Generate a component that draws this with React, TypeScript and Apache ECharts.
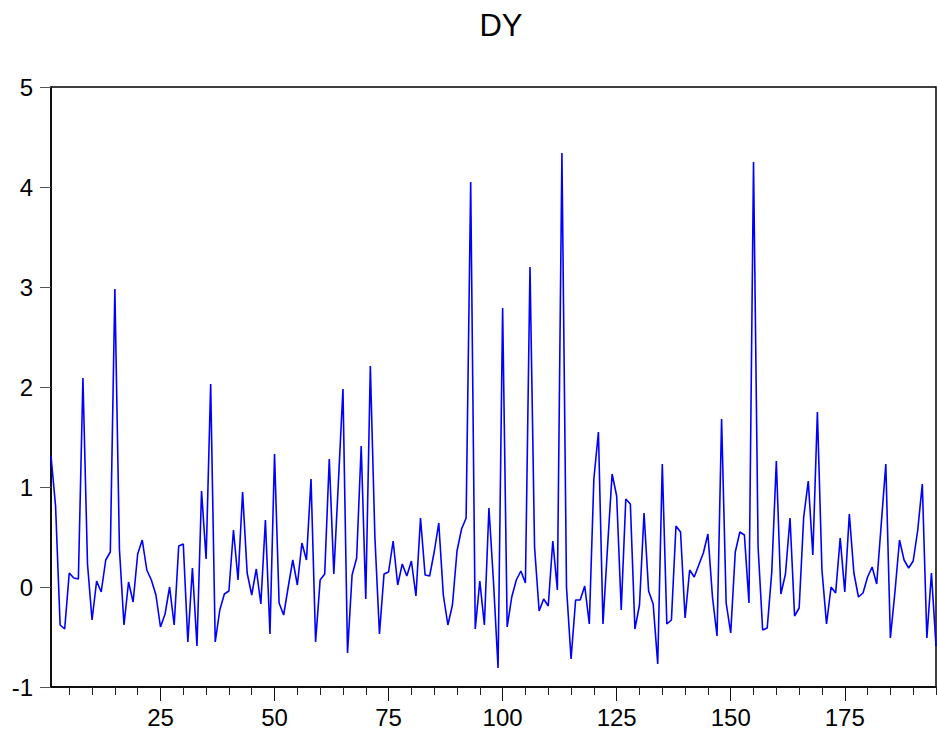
import React, { useEffect, useRef } from "react";
import * as echarts from "echarts";

const titleText = "DY";

const observations: number[] = Array.from({ length: 195 }, (_, i) => i + 1);

const dyValues: number[] = [
  1.31, 0.81, -0.38, -0.42, 0.14, 0.09, 0.08, 2.09, 0.23, -0.33,
  0.06, -0.05, 0.27, 0.35, 2.98, 0.38, -0.38, 0.05, -0.15, 0.33,
  0.47, 0.17, 0.07, -0.08, -0.40, -0.27, 0.00, -0.38, 0.41, 0.43,
  -0.55, 0.19, -0.59, 0.96, 0.28, 2.03, -0.55, -0.23, -0.07, -0.04,
  0.57, 0.07, 0.95, 0.14, -0.08, 0.18, -0.17, 0.67, -0.47, 1.33,
  -0.16, -0.28, 0.00, 0.27, 0.02, 0.44, 0.27, 1.08, -0.55, 0.07,
  0.13, 1.28, 0.13, 1.05, 1.98, -0.66, 0.12, 0.29, 1.41, -0.12,
  2.21, 0.50, -0.47, 0.13, 0.15, 0.46, 0.02, 0.23, 0.11, 0.26,
  -0.09, 0.69, 0.12, 0.11, 0.35, 0.64, -0.08, -0.38, -0.18, 0.36,
  0.58, 0.69, 4.05, -0.42, 0.06, -0.38, 0.79, 0.05, -0.81, 2.79,
  -0.40, -0.10, 0.07, 0.16, 0.04, 3.20, 0.40, -0.24, -0.12, -0.19,
  0.46, -0.03, 4.34, 0.00, -0.72, -0.13, -0.13, 0.01, -0.37, 1.08,
  1.55, -0.37, 0.40, 1.13, 0.91, -0.23, 0.88, 0.83, -0.42, -0.18,
  0.74, -0.04, -0.17, -0.77, 1.23, -0.37, -0.33, 0.61, 0.55, -0.31,
  0.17, 0.10, 0.22, 0.34, 0.53, -0.10, -0.49, 1.68, -0.16, -0.46,
  0.35, 0.55, 0.52, -0.16, 4.25, 0.40, -0.43, -0.41, 0.15, 1.26,
  -0.07, 0.13, 0.69, -0.29, -0.21, 0.70, 1.06, 0.32, 1.75, 0.17,
  -0.37, 0.00, -0.06, 0.49, -0.05, 0.73, 0.14, -0.10, -0.06, 0.10,
  0.20, 0.03, 0.63, 1.23, -0.51, -0.05, 0.47, 0.27, 0.19, 0.26,
  0.57, 1.03, -0.51, 0.14, -0.59,
];

const yMin = -1;
const yMax = 5;
const yStep = 1;
const minorTickEvery = 5;
const majorTickEvery = 25;

const FONT = "'Liberation Sans', Arial, Helvetica, sans-serif";

export default function App() {
  const ref = useRef<HTMLDivElement>(null);

  useEffect(() => {
    if (!ref.current) return;
    const chart = echarts.init(ref.current, undefined, { renderer: "svg" });
    const cats = observations.map(String);
    chart.setOption({
      animation: false,
      backgroundColor: "#ffffff",
      title: {
        text: titleText,
        left: 496,
        top: 5,
        textAlign: "center",
        textStyle: {
          fontFamily: FONT,
          fontSize: 31,
          fontWeight: "normal",
          color: "#000",
        },
      },
      grid: {
        left: 51,
        right: 1,
        top: 87,
        bottom: 47,
        show: true,
        borderColor: "#000",
        borderWidth: 1.5,
        backgroundColor: "transparent",
      },
      xAxis: [
        {
          type: "category",
          data: cats,
          boundaryGap: false,
          position: "bottom",
          axisLine: { show: true, onZero: false, lineStyle: { color: "#000", width: 1.5 } },
          axisTick: {
            show: true,
            inside: false,
            length: 8,
            interval: (idx: number, val: string) => Number(val) % minorTickEvery === 0,
            lineStyle: { color: "#222", width: 1 },
          },
          axisLabel: { show: false },
          splitLine: { show: false },
        },
        {
          type: "category",
          data: cats,
          boundaryGap: false,
          position: "bottom",
          axisLine: { show: false, onZero: false },
          axisTick: {
            show: true,
            inside: false,
            length: 14,
            interval: (idx: number, val: string) => Number(val) % majorTickEvery === 0,
            lineStyle: { color: "#111", width: 1 },
          },
          axisLabel: {
            show: true,
            interval: (idx: number, val: string) => Number(val) % majorTickEvery === 0,
            fontFamily: FONT,
            fontSize: 24,
            color: "#000",
            margin: 18,
          },
          splitLine: { show: false },
        },
      ],
      yAxis: {
        type: "value",
        min: yMin,
        max: yMax,
        interval: yStep,
        axisLine: { show: true, onZero: false, lineStyle: { color: "#000", width: 1.5 } },
        axisTick: {
          show: true,
          inside: false,
          length: 11,
          lineStyle: { color: "#555", width: 1 },
        },
        axisLabel: {
          fontFamily: FONT,
          fontSize: 24,
          color: "#000",
          margin: 18,
        },
        splitLine: { show: false },
      },
      series: [
        {
          type: "line",
          name: titleText,
          xAxisIndex: 0,
          data: dyValues,
          showSymbol: false,
          symbol: "none",
          lineStyle: { color: "#0000ff", width: 1.6 },
          z: 3,
        },
      ],
    });
    return () => chart.dispose();
  }, []);

  return (
    <div
      ref={ref}
      style={{ position: "fixed", left: 0, top: 0, width: 937, height: 734 }}
    />
  );
}
